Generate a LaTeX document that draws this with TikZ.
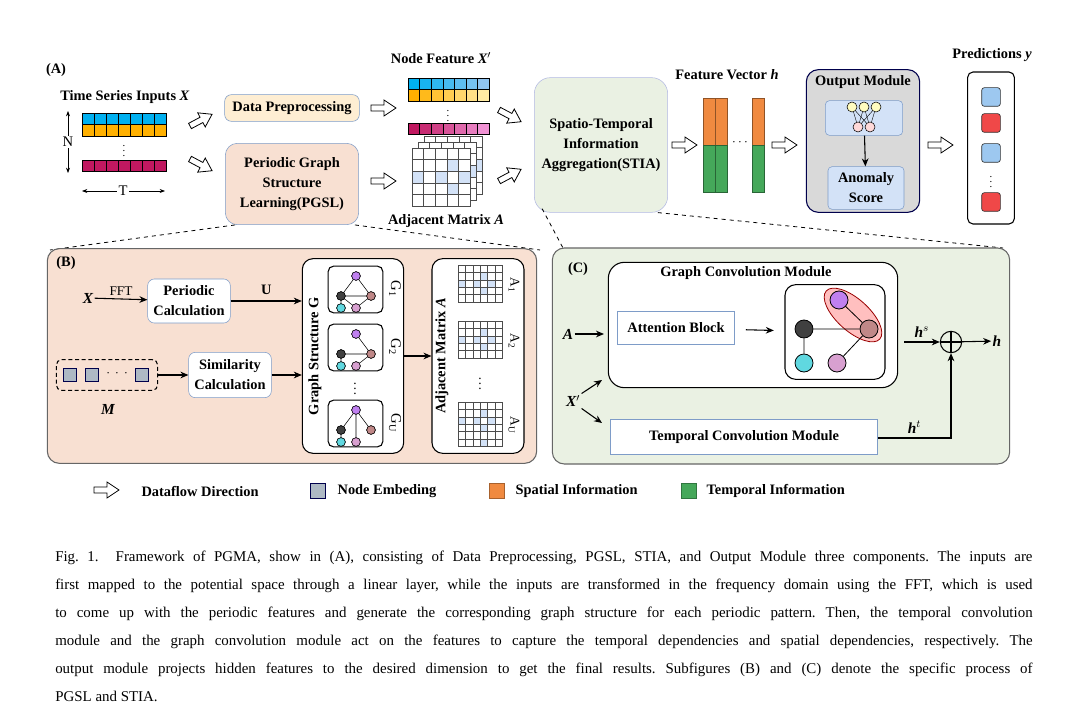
\documentclass[tikz,border=0pt]{standalone}
\usepackage{fontspec}
\setmainfont{Liberation Serif}
\usetikzlibrary{arrows.meta,calc}
\definecolor{bblue}{HTML}{00B0F0}
\definecolor{borg}{HTML}{FFB000}
\definecolor{bmag}{HTML}{C01860}
\definecolor{lblue}{HTML}{A8C8F0}
\definecolor{lorg}{HTML}{FFF5C0}
\definecolor{lmag}{HTML}{F8A8E8}
\definecolor{peach}{HTML}{F8E0D2}
\definecolor{mint}{HTML}{EAF1E3}
\definecolor{edgeb}{HTML}{7E9CC8}
\definecolor{cellb}{HTML}{D3E2F7}
\definecolor{pblue}{HTML}{9DC8F0}
\definecolor{pred}{HTML}{F04848}
\definecolor{sorange}{HTML}{F08A40}
\definecolor{sgreen}{HTML}{45A85A}
\definecolor{npur}{HTML}{C080F0}
\definecolor{ndark}{HTML}{404040}
\definecolor{nrose}{HTML}{C08888}
\definecolor{ncyan}{HTML}{60D8E0}
\definecolor{npink}{HTML}{D8A0D0}
\definecolor{nemb}{HTML}{AEB9C4}
\tikzset{
 lbl/.style={font=\bfseries\fontsize{10.8}{13}\selectfont, inner sep=1pt},
 box/.style={draw=edgeb, rounded corners=5pt, fill=white, font=\bfseries\fontsize{10.8}{13}\selectfont, align=center, inner sep=0pt},
 harrow/.style={draw=black, fill=white, line width=0.6pt},
 arr/.style={-{Stealth[length=6pt,width=5pt]}, line width=0.8pt},
 gn/.style={circle, draw=black, line width=0.4pt, minimum size=6.5pt, inner sep=0pt},
 bn/.style={circle, draw=black, line width=0.6pt, minimum size=13.5pt, inner sep=0pt},
 dline/.style={dashed, line width=0.6pt},
 it/.style={font=\bfseries\itshape\fontsize{11.5}{13}\selectfont, inner sep=1pt},
}
\newcommand\harr[3]{\draw[harrow, shift={(#1,#2)}, rotate=#3] (0,-3)--(13,-3)--(13,-8)--(25,0)--(13,8)--(13,3)--(0,3)--cycle;}
\newcommand\amat[5]{%
 \foreach \i in {1,...,#3}{\foreach \j in {1,...,#4}{%
  \pgfmathtruncatemacro\mm{mod(\i*3+\j*2+\i*\j,4)}%
  \ifnum\mm=0 \def\cc{cellb}\else\def\cc{white}\fi
  \draw[fill=\cc, draw=black!70, line width=0.3pt] ({#1+(\i-1)*#5},{#2+(\j-1)*#5}) rectangle ++(#5,#5);}}}
\newcommand\minig[3]{%
 \node[gn, fill=npur] (#3p) at (#1+15,#2+10) {};
 \node[gn, fill=ndark] (#3d) at (#1+0,#2+30) {};
 \node[gn, fill=nrose] (#3r) at (#1+30,#2+30) {};
 \node[gn, fill=ncyan] (#3c) at (#1+0,#2+42) {};
 \node[gn, fill=npink] (#3k) at (#1+15,#2+42) {};
}
\begin{document}
\begin{tikzpicture}[x=0.75pt,y=-0.75pt]
\useasboundingbox (0,0) rectangle (1085,709);
\fill[white] (0,0) rectangle (1085,709);

%% ---------- (A)
\node[lbl] (la) at (56,70) {(A)};
\node[lbl] (tsi) at (125,97) {Time Series Inputs \textit{X}};
\foreach \k in {0,...,6}{
 \draw[fill=bblue, line width=0.4pt] (82+\k*12,113) rectangle ++(12,11.5);
 \draw[fill=borg, line width=0.4pt] (82+\k*12,124.5) rectangle ++(12,11.5);
 \draw[fill=bmag, line width=0.4pt] (82+\k*12,160) rectangle ++(12,11.5);}
\node[font=\fontsize{8}{8}\selectfont, inner sep=0pt] (vd) at (124,147) {$\vdots$};
\coordinate (nt) at (68,111); \coordinate (nb) at (68,173);
\node[font=\fontsize{11}{12}\selectfont, fill=white, inner sep=1pt] (nl) at (68,142) {N};
\draw[-{Stealth[length=4pt]}, line width=0.5pt] (nl) -- (nt);
\draw[-{Stealth[length=4pt]}, line width=0.5pt] (nl) -- (nb);
\node[font=\fontsize{11}{12}\selectfont, inner sep=1pt] (tl) at (123,191) {T};
\coordinate (tlft) at (82,191); \coordinate (trt) at (165,191);
\draw[-{Stealth[length=4pt]}, line width=0.5pt] (tl) -- (tlft);
\draw[-{Stealth[length=4pt]}, line width=0.5pt] (tl) -- (trt);

\harr{190}{126}{28}
\harr{190}{159}{-28}

\node[box, fill=yellow!20!orange!15, minimum width=101pt, minimum height=20pt] (dp) at (292,108) {Data Preprocessing};
\node[box, fill=peach, rounded corners=9pt, minimum width=100pt, minimum height=61pt] (pgsl) at (292,184) {Periodic Graph\\[2pt]Structure\\[2pt]Learning(PGSL)};

\harr{371}{108}{0}
\harr{371}{181}{0}

\node[lbl] (nf) at (441,58) {Node Feature \textit{X$'$}};
\foreach \k/\a in {0/0,1/14,2/28,3/42,4/56,5/70,6/85}{
 \pgfmathtruncatemacro\bb{100-\a}
 \draw[fill=bblue!\bb!lblue, line width=0.4pt] (408+\k*11.6,78) rectangle ++(11.6,11.5);
 \draw[fill=borg!\bb!lorg, line width=0.4pt] (408+\k*11.6,89.5) rectangle ++(11.6,11.5);
 \draw[fill=bmag!\bb!lmag, line width=0.4pt] (408+\k*11.6,123) rectangle ++(11.6,11.5);}
\node[font=\fontsize{8}{8}\selectfont, inner sep=0pt] (vd2) at (448,112) {$\vdots$};
\amat{424}{136}{5}{5}{11.6}
\amat{418}{142}{5}{5}{11.6}
\amat{412}{148}{5}{5}{11.6}
\node[lbl] (am) at (446,221) {Adjacent Matrix \textit{A}};

\harr{499}{110}{-28}
\harr{499}{181}{28}

\node[box, draw=cyan!30!blue!30, fill=mint, rounded corners=12pt, minimum width=100pt, minimum height=101pt] (stia) at (601,145) {Spatio-Temporal\\[2pt]Information\\[2pt]Aggregation(STIA)};

\harr{672}{145}{0}
\node[lbl] (fv) at (727,75) {Feature Vector \textit{h}};
\foreach \xx in {703,715,752}{
 \draw[fill=sorange, draw=sorange!60!black, line width=0.4pt] (\xx,98) rectangle ++(12.5,47);
 \draw[fill=sgreen, draw=sgreen!60!black, line width=0.4pt] (\xx,145) rectangle ++(12.5,47);}
\node (hd) at (740,143) {$\cdots$};
\harr{772}{145}{0}

\node[draw=black!70!blue, line width=0.8pt, fill=black!15, rounded corners=9pt, minimum width=85pt, minimum height=107pt] (om) at (863,141) {};
\node[lbl] (omt) at (863,82) {Output Module};
\node[box, fill=cellb, rounded corners=3pt, minimum width=58pt, minimum height=26pt] (nn) at (864,118) {};
\foreach \q in {1,2,3}{\node[gn, fill=yellow!25, minimum size=7.5pt] (t\q) at (850+\q*12-12+2,107) {};}
\foreach \q in {1,2}{\node[gn, fill=red!15, minimum size=7.5pt] (b\q) at (856+\q*12-12+2,127) {};}
\foreach \u in {1,2,3}{\foreach \v in {1,2}{\draw[line width=0.3pt] (t\u) -- (b\v);}}
\node[box, fill=cellb, rounded corners=3pt, minimum width=57pt, minimum height=32pt] (as) at (866,188) {Anomaly\\[2pt]Score};
\draw[arr] (nn) -- (as);

\harr{928}{145}{0}
\node[lbl] (py) at (992,55) {Predictions \textit{y}};
\node[draw=black, line width=0.8pt, rounded corners=4pt, minimum width=35pt, minimum height=114pt] (pb) at (991,148) {};
\foreach \yy/\cc in {97/pblue, 123/pred, 153/pblue, 202/pred}{
 \node[draw=black!80, rounded corners=2pt, fill=\cc, minimum size=14pt, line width=0.5pt] at (991,\yy) {};}
\node[font=\fontsize{8}{8}\selectfont, inner sep=0pt] (vd3) at (991,178) {$\vdots$};

%% ---------- dashed projections
\coordinate (bA) at (50,250); \coordinate (bB) at (540,250);
\coordinate (cA) at (563,248); \coordinate (cB) at (1003,248);
\draw[dline] ($(pgsl.south west)+(10,0)$) -- (bA);
\draw[dline] ($(pgsl.south east)+(-4,0)$) -- (bB);
\draw[dline] ($(stia.south west)+(8,-4)$) -- (cA);
\draw[dline] ($(stia.south east)+(-10,0)$) -- (cB);

%% ---------- (B)
\node[draw=black!60, line width=0.8pt, fill=peach, rounded corners=9pt, minimum width=367pt, minimum height=161pt] (panB) at (292,356) {};
\node[lbl] (lb) at (66,263) {(B)};
\node[it] (xb) at (88,298) {X};
\node[box, minimum width=62pt, minimum height=33pt] (pc) at (189,301) {Periodic\\[2pt]Calculation};
\draw[arr] (xb) -- node[above, font=\fontsize{10}{10}\selectfont, inner sep=2pt] {FFT} (pc);
\node[draw=black, dash pattern=on 3pt off 2pt, rounded corners=4pt, line width=0.8pt, minimum width=76pt, minimum height=23pt] (mb) at (107,375) {};
\foreach \xx in {70,92,142}{\node[draw=black!70!blue, fill=nemb, minimum size=10pt, inner sep=0pt, line width=0.6pt] at (\xx,375) {};}
\node (md) at (117,374) {$\cdot\,\cdot\,\cdot$};
\node[it] (ml) at (108,409) {M};
\node[box, minimum width=62pt, minimum height=34pt] (sc) at (230,375) {Similarity\\[2pt]Calculation};
\draw[arr] (mb) -- (sc);

\node[draw=black, line width=0.8pt, fill=white, rounded corners=8pt, minimum width=76pt, minimum height=146pt] (gs) at (353,356) {};
\node[lbl, rotate=90] (gsl) at (315,356) {Graph Structure G};
\draw[arr] (sc) -- (gs.west |- sc);
\draw[arr] (pc) -- node[above, lbl, inner sep=4pt] {U} (gs.west |- pc);
\foreach \yy/\nm/\sb in {266/ga/1,324/gb/2,400/gc/U}{
 \node[draw=black, line width=0.8pt, rounded corners=4pt, minimum width=41pt, minimum height=35pt] (\nm box) at (355.5,\yy+23.5) {};
 \node[font=\fontsize{11}{12}\selectfont, rotate=-90, inner sep=0pt] at (395,\yy+23) {G$_{\mathrm{\sb}}$};
 \minig{341}{\yy}{\nm}
}
\draw[line width=0.4pt] (gad)--(gap) (gap)--(gar) (gad)--(gar) (gad)--(gac) (gad)--(gak) (gar)--(gak);
\draw[line width=0.4pt] (gbp)--(gbr) (gbd)--(gbr) (gbd)--(gbc) (gbr)--(gbk);
\draw[line width=0.4pt] (gcp)--(gcd) (gcp)--(gcr) (gcp)--(gck) (gcd)--(gcc);
\foreach \nm in {ga,gb,gc}{\foreach \s/\c in {p/npur,d/ndark,r/nrose,c/ncyan,k/npink}{\node[gn, fill=\c] at (\nm\s) {};}}
\node[font=\fontsize{10}{10}\selectfont, inner sep=0pt] (gd) at (355,385) {$\vdots$};

\node[draw=black, line width=0.8pt, fill=white, rounded corners=8pt, minimum width=69pt, minimum height=146pt] (adj) at (478,356) {};
\node[lbl, rotate=90] (adjl) at (442,356) {Adjacent Matrix \textit{A}};
\draw[arr] (gs) -- (adj);
\amat{458}{265}{6}{5}{7.4}
\amat{458}{321}{6}{5}{7.4}
\amat{458}{402}{6}{6}{7.4}
\foreach \yy/\sb in {285/1,341/2,425/U}{\node[font=\fontsize{10}{11}\selectfont, rotate=-90, inner sep=0pt] at (514,\yy) {A$_{\mathrm{\sb}}$};}
\node[font=\fontsize{10}{10}\selectfont, inner sep=0pt] (ad) at (480,380) {$\vdots$};

%% ---------- (C)
\node[draw=black!60, line width=0.8pt, fill=mint, rounded corners=9pt, minimum width=343pt, minimum height=162pt] (panC) at (781,356) {};
\node[lbl] (lc) at (578,269) {(C)};
\node[draw=black, line width=0.8pt, fill=white, rounded corners=12pt, minimum width=217pt, minimum height=94pt] (gcm) at (753,325) {};
\node[lbl] (gcmt) at (746,273) {Graph Convolution Module};
\node[draw=edgeb, line width=0.8pt, fill=white, minimum width=88pt, minimum height=25pt, lbl] (ab) at (676,328) {Attention Block};
\node[draw=black, line width=0.8pt, fill=white, rounded corners=8pt, minimum width=75pt, minimum height=71pt] (ig) at (835,332) {};
\draw[arr, shorten <=8pt, shorten >=8pt] (ab) -- (ig);
\draw[draw=red!60!black, fill=red!25, line width=0.6pt, rotate around={-42:(853,315)}] (853,315) ellipse (36 and 16);
\node[bn, fill=npur] (cp) at (839,300) {};
\node[bn, fill=ndark] (cd) at (804,329) {};
\node[bn, fill=nrose] (cr) at (869,329) {};
\node[bn, fill=ncyan] (cc) at (804,363) {};
\node[bn, fill=npink] (ck) at (837,363) {};
\draw[line width=0.6pt] (cd)--(cr) (cp)--(cr) (cd)--(cc) (ck)--(cr);
\node[it] (al) at (568,334) {A};
\coordinate (ain) at (604,334);
\draw[arr] (al) -- (ain);
\node[it] (xl) at (573,401) {X$'$};
\coordinate (xin) at (602,380);
\draw[arr] (xl.north east) -- (xin);
\node[draw=edgeb, line width=0.8pt, fill=white, minimum width=200pt, minimum height=26pt, lbl] (tcm) at (744,437) {Temporal Convolution Module};
\coordinate (xin2) at (602,423);
\draw[arr] (xl.south east) -- (xin2);
\node[circle, draw=black, line width=0.8pt, minimum size=16pt, inner sep=0pt] (op) at (951,342) {};
\draw[line width=0.8pt] (op.north)--(op.south) (op.west)--(op.east);
\coordinate (hsin) at (904,342);
\draw[arr] (hsin) -- node[above, it, inner sep=3pt] {h$^{s}$} (op);
\node[it] (hl) at (997,341) {h};
\draw[arr] (op) -- (hl);
\draw[arr] (tcm.east |- 0,438) -- node[above, it, inner sep=3pt, pos=0.5] {h$^{t}$} (951,438) -- (op);

%% ---------- legend
\harr{94}{490}{0}
\node[lbl, anchor=west] (l1) at (140,491) {Dataflow Direction};
\node[draw=black!70!blue, fill=nemb, minimum size=11pt, inner sep=0pt, line width=0.6pt] (s1) at (318,491) {};
\node[lbl, anchor=west] (l2) at (336,491) {Node Embeding};
\node[draw=sorange!70!black, fill=sorange, minimum size=11pt, inner sep=0pt] (s2) at (497,491) {};
\node[lbl, anchor=west] (l3) at (514,491) {Spatial Information};
\node[draw=sgreen!70!black, fill=sgreen, minimum size=11pt, inner sep=0pt] (s3) at (689,491) {};
\node[lbl, anchor=west] (l4) at (705,491) {Temporal Information};

%% ---------- caption
\node[anchor=north west, text width=733pt, align=justify, inner sep=0pt, font=\frenchspacing\fontsize{11.2}{21}\selectfont] (cap) at (55,551) {Fig.~1.\ \ Framework of PGMA, show in (A), consisting of Data Preprocessing, PGSL, STIA, and Output Module three components. The inputs are\linebreak first mapped to the potential space through a linear layer, while the inputs are transformed in the frequency domain using the FFT, which is used\linebreak to come up with the periodic features and generate the corresponding graph structure for each periodic pattern. Then, the temporal convolution\linebreak module and the graph convolution module act on the features to capture the temporal dependencies and spatial dependencies, respectively. The\linebreak output module projects hidden features to the desired dimension to get the final results. Subfigures (B) and (C) denote the specific process of\linebreak PGSL and STIA.};
\end{tikzpicture}
\end{document}
